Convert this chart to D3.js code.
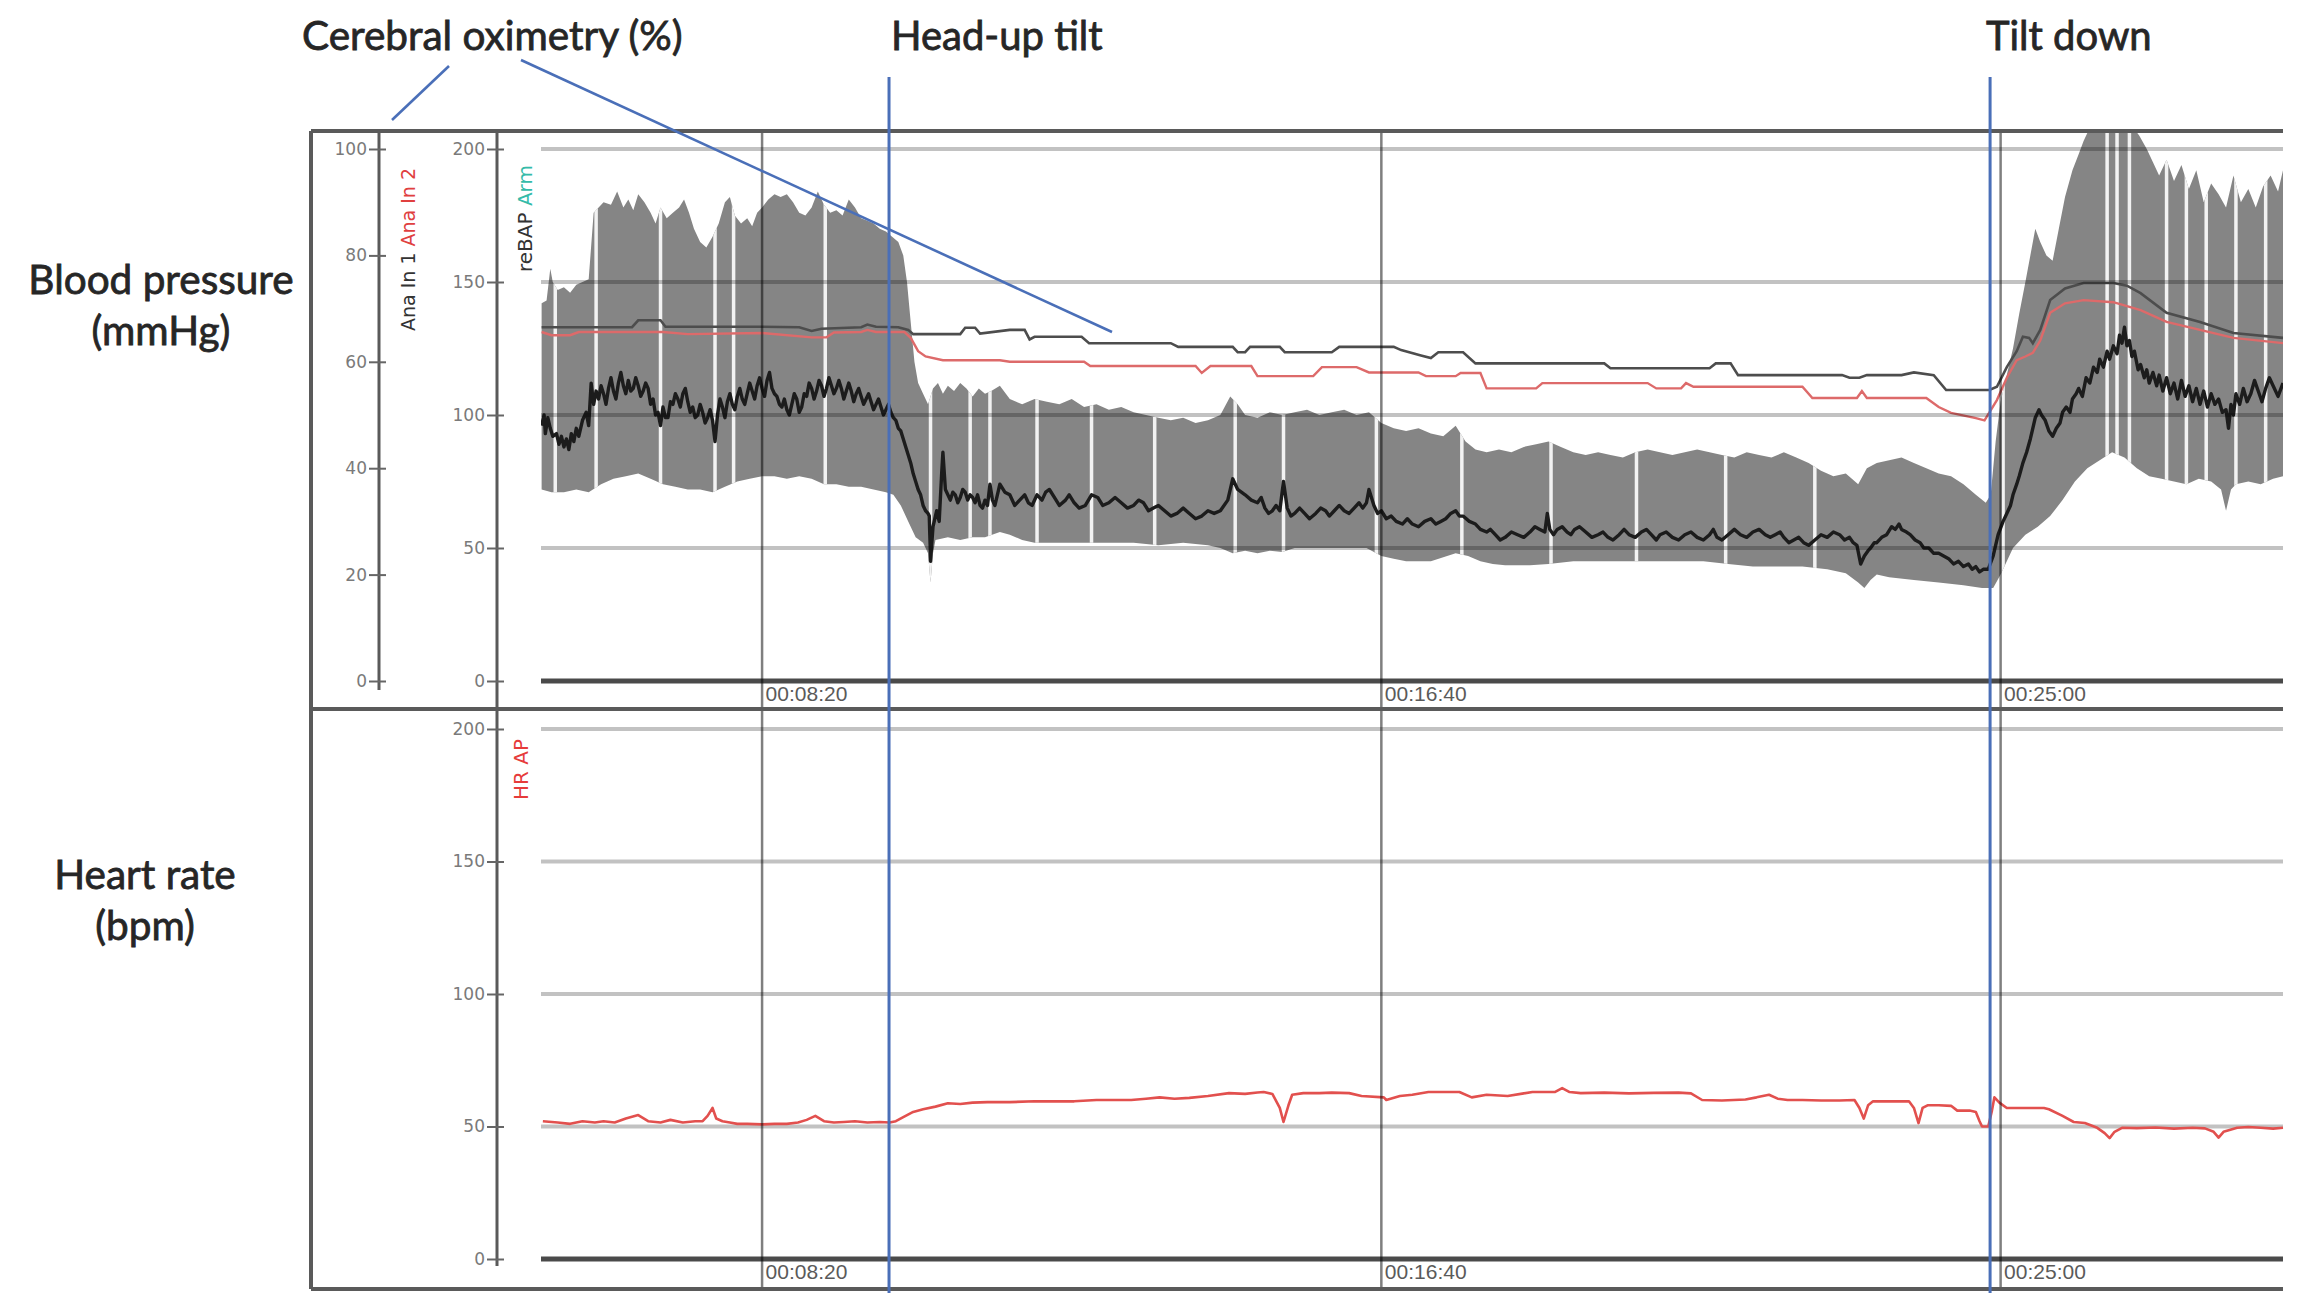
<!DOCTYPE html>
<html><head><meta charset="utf-8">
<script src="https://cdn.jsdelivr.net/npm/d3@7/dist/d3.min.js"></script>
<style>html,body{margin:0;padding:0;background:#fff;}svg{display:block;}</style>
</head><body>
<svg id="chart" width="2304" height="1297"></svg>
<script>
// ---------- data (time in seconds, values in units of each axis) ----------
const timeTicks  = [500, 1000, 1500];
const timeLabels = ["00:08:20", "00:16:40", "00:25:00"];
const oxTicks = [0, 20, 40, 60, 80, 100];
const bpTicks = [0, 50, 100, 150, 200];
const hrTicks = [0, 50, 100, 150, 200];
const eventTimes  = [602.5, 1491.5];
const eventLabels = ["Head-up tilt", "Tilt down"];

// reBAP systolic envelope (mmHg)
const bpUpper = [[322,142],[326,143],[329,155],[331,150],[335,147],[340,148],[345,146],[350,149],[355,150],[360,151],[364,176],[368,178],[372,180],[378,179],[383,184],[388,178],[392,181],[396,177],[400,183],[405,180],[410,176],[414,172],[418,178],[423,174],[428,176],[433,178],[437,181],[441,176],[445,170],[450,165],[455,163],[460,167],[465,172],[470,180],[474,182],[478,175],[483,172],[488,174],[492,171],[496,176],[500,178],[505,181],[510,183],[515,182],[520,183],[525,180],[530,176],[535,175],[540,178],[545,184],[550,179],[555,176],[560,177],[565,175],[570,181],[575,178],[580,174],[585,173],[590,172],[595,170],[600,169],[605,167],[610,165],[614,160],[617,150],[620,135],[623,120],[626,112],[630,108],[634,104],[638,110],[642,112],[646,108],[650,111],[655,109],[660,112],[665,110],[670,107],[675,110],[680,108],[685,109],[692,111],[700,106],[710,104],[720,106],[730,105],[740,104],[750,106],[760,103],[770,104],[780,102],[790,103],[800,101],[810,100],[820,99],[830,98],[840,99],[850,97],[860,98],[870,100],[878,107],[884,104],[890,100],[900,99],[910,101],[920,100],[930,101],[940,102],[950,100],[960,101],[970,102],[980,100],[990,101],[1000,97],[1010,95],[1020,94],[1030,95],[1040,93],[1050,92],[1060,96],[1068,90],[1076,87],[1085,86],[1095,87],[1105,86],[1115,88],[1125,89],[1135,90],[1145,88],[1155,86],[1165,85],[1175,86],[1185,85],[1195,84],[1205,86],[1215,87],[1225,86],[1235,85],[1245,86],[1255,87],[1265,86],[1275,85],[1285,84],[1295,86],[1305,85],[1315,84],[1325,86],[1335,84],[1345,82],[1355,79],[1365,77],[1375,78],[1385,74],[1392,80],[1400,82],[1410,83],[1420,84],[1430,82],[1440,80],[1450,78],[1460,77],[1470,74],[1480,70],[1488,67],[1492,70],[1496,90],[1500,105],[1505,115],[1510,125],[1515,138],[1520,150],[1524,160],[1528,170],[1532,165],[1537,160],[1542,158],[1547,170],[1552,182],[1558,192],[1563,198],[1567,203],[1572,208],[1577,210],[1582,212],[1590,212],[1597,210],[1604,210],[1612,205],[1618,200],[1623,195],[1628,190],[1634,196],[1640,188],[1646,194],[1652,185],[1658,192],[1664,180],[1670,187],[1676,183],[1682,178],[1688,190],[1694,180],[1700,185],[1706,178],[1712,186],[1718,190],[1724,184],[1728,192]];

// reBAP diastolic envelope (mmHg)
const bpLower = [[322,72],[330,71],[340,71],[350,72],[360,71],[370,74],[380,76],[390,77],[400,78],[410,76],[420,74],[430,73],[440,72],[450,72],[460,71],[470,73],[480,75],[490,76],[500,77],[510,77],[520,76],[530,77],[540,76],[550,74],[560,74],[570,73],[580,73],[590,72],[600,71],[606,70],[612,66],[618,60],[624,54],[630,52],[634,48],[636,37],[638,48],[640,53],[650,54],[660,53],[670,54],[680,54],[692,56],[700,55],[710,53],[720,52],[740,52],[760,52],[780,52],[800,52],[820,51],[840,52],[860,51],[870,50],[880,48],[890,49],[900,48],[910,49],[920,48.5],[930,50],[950,50],[970,50],[988,50],[1000,47],[1010,46],[1020,45],[1040,45],[1060,48],[1070,47],[1080,45],[1090,44],[1100,43.5],[1120,43.5],[1135,44],[1155,45],[1180,45],[1200,45],[1220,45],[1240,45],[1260,45],[1280,44],[1300,43],[1320,43],[1340,43],[1360,42],[1375,40.5],[1385,37],[1390,35],[1395,38],[1400,40],[1410,39],[1430,38],[1450,37],[1470,36],[1485,35],[1490,35],[1494,35],[1500,40],[1505,45],[1510,50],[1520,55],[1530,58],[1540,62],[1550,68],[1560,75],[1570,80],[1580,83],[1590,86],[1600,84],[1610,80],[1620,77],[1630,76],[1640,75],[1650,74],[1660,76],[1670,75],[1678,72],[1682,64],[1686,72],[1690,74],[1700,75],[1710,74],[1720,76],[1728,77]];

// reBAP mean (mmHg)
const bpMean = [[322,96],[324,100],[325,93],[327,99],[329,95],[331,92],[334,93],[336,89],[338,92],[340,88],[342,91],[344,87],[346,93],[348,90],[350,95],[352,92],[355,98],[358,101],[360,96],[362,112],[364,104],[366,109],[368,106],[370,111],[372,108],[374,104],[376,110],[378,114],[380,109],[382,106],[384,112],[386,116],[388,111],[390,108],[392,113],[394,109],[396,110],[398,114],[400,111],[402,107],[404,109],[406,112],[408,110],[410,104],[412,106],[414,100],[416,101],[418,96],[420,103],[422,99],[424,99],[426,105],[428,104],[430,108],[432,106],[434,103],[436,108],[438,110],[440,105],[442,101],[444,103],[446,99],[448,100],[450,104],[452,101],[454,97],[456,99],[458,102],[460,98],[462,90],[464,100],[466,106],[468,103],[470,99],[472,105],[474,108],[476,104],[478,102],[480,107],[482,110],[484,106],[486,104],[488,108],[490,112],[492,109],[494,106],[496,111],[498,114],[500,110],[502,107],[504,113],[506,116],[508,110],[510,108],[512,107],[514,104],[516,103],[518,106],[520,102],[522,100],[524,104],[526,108],[528,106],[530,101],[532,103],[534,108],[536,107],[538,112],[540,110],[542,106],[544,109],[546,113],[548,111],[550,107],[552,110],[554,114],[556,111],[558,108],[560,110],[562,113],[564,110],[566,106],[568,109],[570,112],[572,109],[574,105],[576,108],[578,110],[580,107],[582,104],[584,106],[586,108],[588,105],[590,102],[592,104],[594,106],[596,103],[598,100],[600,102],[602,104],[604,101],[606,99],[608,98],[610,95],[612,94],[614,91],[616,88],[618,85],[620,82],[622,78],[624,75],[626,72],[628,70],[630,66],[632,64],[634,63],[635,62],[636,45],[638,58],[641,64],[643,60],[645,78],[646,86],[648,72],[650,70],[652,68],[654,71],[656,70],[658,67],[660,69],[662,72],[664,71],[666,68],[668,70],[670,69],[672,67],[674,70],[676,66],[678,65],[680,68],[682,66],[684,74],[686,68],[688,66],[690,70],[692,74],[696,71],[700,70],[704,66],[708,68],[712,70],[715,67],[718,66],[722,70],[726,68],[729,71],[732,72],[736,69],[740,66],[745,68],[748,70],[752,67],[756,65],[761,66],[766,70],[771,69],[775,66],[780,67],[785,69],[790,67],[795,65],[800,66],[804,68],[808,67],[812,64],[816,65],[820,66],[825,64],[830,62],[835,63],[840,65],[845,63],[850,61],[855,62],[860,64],[865,63],[870,64],[876,68],[880,76],[884,72],[890,70],[895,68],[900,67],[903,69],[906,65],[909,63],[912,64],[915,66],[918,64],[921,75],[924,65],[927,62],[930,63],[934,65],[938,63],[942,61],[947,63],[951,65],[955,64],[958,62],[962,64],[966,66],[970,64],[974,63],[978,65],[982,67],[985,65],[988,67],[990,72],[994,66],[997,63],[1000,64],[1004,61],[1008,62],[1012,60],[1017,59],[1021,61],[1025,59],[1030,58],[1035,60],[1040,61],[1044,59],[1048,60],[1052,61],[1056,63],[1060,64],[1063,62],[1066,62],[1071,60],[1076,59],[1080,57],[1085,56],[1088,57],[1092,55],[1096,53],[1100,54],[1105,56],[1110,55],[1115,54],[1120,56],[1124,58],[1128,57],[1132,56],[1134,63],[1136,57],[1139,55],[1142,57],[1146,58],[1150,56],[1153,55],[1156,57],[1160,58],[1165,56],[1170,54],[1175,55],[1179,56],[1183,54],[1187,53],[1192,55],[1196,57],[1200,55],[1205,54],[1210,56],[1214,57],[1218,55],[1222,53],[1225,55],[1230,56],[1235,54],[1240,53],[1245,55],[1250,56],[1255,54],[1260,53],[1265,55],[1268,57],[1271,54],[1275,53],[1280,55],[1285,57],[1290,55],[1295,54],[1300,56],[1305,57],[1310,55],[1314,54],[1318,55],[1322,56],[1325,54],[1329,52],[1333,53],[1337,54],[1341,52],[1345,51],[1350,53],[1355,55],[1360,54],[1365,56],[1370,55],[1374,53],[1378,54],[1381,52],[1384,51],[1387,44],[1390,47],[1393,49],[1395,50],[1398,52],[1400,52],[1404,54],[1408,55],[1412,58],[1415,57],[1418,59],[1420,57],[1424,56],[1427,55],[1431,53],[1435,52],[1438,50],[1442,50],[1446,48],[1450,48],[1454,47],[1458,46],[1462,44],[1466,45],[1470,43],[1474,44],[1477,42],[1480,43],[1483,41],[1486,42],[1490,42],[1494,47],[1498,55],[1502,60],[1505,63],[1508,66],[1510,70],[1513,74],[1515,77],[1518,82],[1521,86],[1524,91],[1526,95],[1528,99],[1531,102],[1533,100],[1536,98],[1539,94],[1542,92],[1545,95],[1548,97],[1550,101],[1553,103],[1556,101],[1558,106],[1561,108],[1563,110],[1566,107],[1569,114],[1572,112],[1575,118],[1578,116],[1580,121],[1583,118],[1586,124],[1588,121],[1591,126],[1594,123],[1596,130],[1598,127],[1600,133],[1602,126],[1604,128],[1606,122],[1608,124],[1611,117],[1613,119],[1616,114],[1618,117],[1620,112],[1623,116],[1626,111],[1628,115],[1631,109],[1634,114],[1637,108],[1640,112],[1643,106],[1646,113],[1649,107],[1652,111],[1655,105],[1658,110],[1661,104],[1664,109],[1667,103],[1670,108],[1673,104],[1676,106],[1679,101],[1682,102],[1684,95],[1686,104],[1688,100],[1690,108],[1693,104],[1696,110],[1699,105],[1702,108],[1705,113],[1708,109],[1711,105],[1714,110],[1717,114],[1720,111],[1724,107],[1728,112]];

// Physiocal calibration gaps in the reBAP trace (s)
const calibrationTimes = [333,366,418,462,477,551,636,668,684,722,766,817,882,921,996,1065,1137,1206,1278,1350,1502,1586,1594,1604,1634,1650,1666,1690,1714];

// cerebral oximetry, Ana In 1 (%)
const oxIn1 = [[322,66.5],[350,66.5],[395,66.5],[400,67.8],[418,67.8],[422,66.6],[470,66.6],[500,66.6],[530,66.5],[540,65.8],[548,66.2],[580,66.5],[585,67.0],[592,66.6],[610,66.5],[618,66.0],[622,65.2],[660,65.2],[664,66.4],[672,66.4],[676,65.3],[700,66.0],[712,66.0],[716,64.2],[720,64.7],[758,64.7],[764,63.5],[830,63.5],[836,62.8],[880,62.8],[884,61.8],[890,61.8],[894,62.8],[918,62.8],[922,61.8],[960,61.8],[966,62.8],[1010,62.8],[1016,62.2],[1032,61.2],[1040,60.7],[1046,61.8],[1066,61.8],[1076,59.7],[1150,59.7],[1180,59.7],[1185,58.8],[1265,58.8],[1270,59.7],[1282,59.7],[1288,57.5],[1372,57.5],[1378,57.0],[1386,57.0],[1392,57.5],[1420,57.5],[1430,58.0],[1446,57.5],[1456,54.7],[1491,54.7],[1497,55.3],[1505,59],[1513,62],[1518,64.7],[1523,64.5],[1526,63.5],[1532,66],[1540,71.6],[1552,73.8],[1567,74.8],[1591,74.8],[1602,74.3],[1613,72.9],[1634,69.2],[1661,67.5],[1688,65.4],[1728,64.5]];

// cerebral oximetry, Ana In 2 (%)
const oxIn2 = [[322,65.6],[330,65.0],[345,65.0],[352,65.6],[400,65.6],[420,65.6],[440,65.2],[500,65.4],[540,64.6],[552,64.6],[558,65.5],[580,65.6],[585,66.0],[592,65.6],[615,65.6],[620,64.5],[626,62.0],[632,61.0],[646,60.3],[692,60.3],[700,60.0],[760,60.0],[765,59.2],[850,59.2],[855,57.9],[862,59.2],[895,59.2],[900,57.3],[945,57.3],[952,59.0],[980,59.0],[990,58.0],[1030,58.0],[1036,57.3],[1060,57.3],[1064,57.9],[1080,57.9],[1085,55.0],[1125,55.0],[1130,56.0],[1215,56.0],[1222,55.0],[1242,55.0],[1246,56.0],[1252,55.3],[1340,55.3],[1348,53.2],[1384,53.2],[1388,54.5],[1392,53.2],[1440,53.2],[1450,51.5],[1460,50.4],[1480,49.4],[1487,49.0],[1497,52.8],[1505,57],[1513,60.3],[1520,61.0],[1526,61.7],[1532,64],[1540,69.2],[1552,71],[1567,71.6],[1591,71.2],[1613,69.7],[1634,67.5],[1661,66],[1688,64.5],[1728,63.5]];

// heart rate, HR AP (bpm)
const hrAP = [[323,52],[335,51.5],[345,51],[355,52],[365,51.5],[372,52],[381,51.5],[390,53],[400,54.3],[408,52],[418,51.5],[426,52.5],[436,51.5],[446,52],[452,52],[456,54],[460,57],[463,53],[468,52],[474,51.5],[480,51],[488,51],[500,50.8],[510,51],[520,51],[529,51.5],[536,52.5],[543,54],[550,52],[558,51.5],[566,51.7],[575,52],[585,51.5],[595,51.7],[603,51.5],[608,52],[614,53.5],[622,55.5],[630,56.5],[640,57.5],[650,58.8],[660,58.5],[670,59],[682,59.2],[700,59.2],[720,59.5],[740,59.5],[752,59.5],[770,60],[798,60],[810,60.5],[821,61],[833,60.5],[845,60.8],[860,61.5],[877,62.6],[890,62.3],[900,62.8],[905,63],[912,62.3],[918,57],[921,51.7],[925,58],[928,62],[937,62.6],[950,62.6],[960,62.8],[974,62.6],[984,61.5],[1002,61],[1004,60],[1015,61.5],[1025,62],[1038,63],[1050,63],[1063,63],[1073,61],[1085,62],[1102,61.5],[1115,62.5],[1122,63],[1140,63],[1146,64.5],[1152,63],[1161,62.6],[1180,62.8],[1200,62.5],[1220,62.7],[1240,62.8],[1250,62.5],[1259,60],[1275,59.8],[1294,60.2],[1303,61],[1313,62],[1320,60.5],[1328,60],[1340,60],[1355,59.8],[1370,59.8],[1382,60],[1386,57],[1389.5,53],[1393,58],[1397,59.5],[1410,59.5],[1426,59.5],[1430,57],[1433.7,51.3],[1437,57],[1441,58],[1450,58],[1460,57.8],[1465,56],[1475,56],[1480,55.5],[1483,52],[1485,50],[1490,50],[1493,56],[1495,61],[1499,59],[1505,57],[1520,57],[1535,57],[1539,56.5],[1550,54],[1559,51.7],[1568,51.3],[1578,49.5],[1584,47.5],[1588,45.6],[1592,48],[1598,49.5],[1610,49.4],[1625,49.6],[1640,49.2],[1655,49.5],[1665,49.3],[1672,48],[1676,45.8],[1680,48],[1691,49.5],[1700,49.8],[1710,49.5],[1720,49.2],[1728,49.5]];

// ---------- layout ----------
const frameL = 311, frameT = 131, frameR = 2283, frameB = 1289, sepY = 709;
const plotL = 541;
const oxAxisX = 379, bpAxisX = 497;
const svg = d3.select("#chart");

const x   = d3.scaleLinear().domain([321.5, 1728]).range([plotL, frameR]);
const yBP = d3.scaleLinear().domain([0, 200]).range([681, 149]);
const yOx = d3.scaleLinear().domain([0, 100]).range([681, 149]);
const yHR = d3.scaleLinear().domain([0, 200]).range([1259, 729]);

const defs = svg.append("defs");
defs.append("clipPath").attr("id","clipTop").append("rect")
  .attr("x", plotL).attr("y", frameT).attr("width", frameR - plotL).attr("height", 681 - frameT);

const line = (xs, ys) => d3.line().x(d => xs(d[0])).y(d => ys(d[1]));

// ---------- gray band & calibration gaps ----------
const bandPts = bpUpper.concat(bpLower.slice().reverse());
const bandPath = d3.line().x(d => x(d[0])).y(d => yBP(d[1]))(bandPts) + "Z";
defs.append("clipPath").attr("id","clipBand").append("path").attr("d", bandPath);

const gTop = svg.append("g").attr("clip-path","url(#clipTop)");
gTop.append("path").attr("d", bandPath).attr("fill", "#858585");
gTop.append("g").attr("clip-path","url(#clipBand)")
  .selectAll("line").data(calibrationTimes).join("line")
  .attr("x1", d => x(d)).attr("x2", d => x(d))
  .attr("y1", frameT).attr("y2", 681)
  .attr("stroke", "#f2f2f2").attr("stroke-width", 3.5);

// ---------- horizontal grid (semi-transparent so it darkens on the band) ----------
function hGrid(scale, ticks) {
  svg.append("g").selectAll("line").data(ticks.filter(t => t > 0)).join("line")
    .attr("x1", plotL).attr("x2", frameR)
    .attr("y1", d => scale(d)).attr("y2", d => scale(d))
    .attr("stroke", "#000").attr("stroke-opacity", 0.24).attr("stroke-width", 4);
  svg.append("line").attr("x1", plotL).attr("x2", frameR)
    .attr("y1", scale(0)).attr("y2", scale(0))
    .attr("stroke", "#4a4a4a").attr("stroke-width", 5);
}
hGrid(yBP, bpTicks);
hGrid(yHR, hrTicks);

// ---------- traces ----------
gTop.append("path").datum(oxIn1).attr("d", line(x, yOx))
  .attr("fill","none").attr("stroke","#4d4d4d").attr("stroke-width", 2.6);
gTop.append("path").datum(oxIn2).attr("d", line(x, yOx))
  .attr("fill","none").attr("stroke","#dd6a6a").attr("stroke-width", 2.4);
gTop.append("path").datum(bpMean).attr("d", line(x, yBP))
  .attr("fill","none").attr("stroke","#1c1c1c").attr("stroke-width", 3.4).attr("stroke-linejoin","round");

svg.append("path").datum(hrAP).attr("d", line(x, yHR))
  .attr("fill","none").attr("stroke","#e2504e").attr("stroke-width", 2.6).attr("stroke-linejoin","round");

// ---------- vertical time grid + labels ----------
svg.append("g").selectAll("line").data(timeTicks).join("line")
  .attr("x1", d => x(d)).attr("x2", d => x(d))
  .attr("y1", frameT).attr("y2", frameB)
  .attr("stroke", "#000").attr("stroke-opacity", 0.5).attr("stroke-width", 2.5);

function timeAxis(yPos) {
  const ax = d3.axisBottom(x).tickValues(timeTicks)
    .tickFormat((d, i) => timeLabels[i]).tickSize(0).tickPadding(0);
  const g = svg.append("g").attr("transform", `translate(0,${yPos})`).call(ax);
  g.select(".domain").remove();
  g.selectAll("text").attr("text-anchor","start").attr("dx", 3).attr("dy", 0)
    .attr("font-family","'Liberation Sans Narrow','Liberation Sans',sans-serif")
    .attr("font-size", 21).attr("fill","#5a5a5a");
}
timeAxis(701);
timeAxis(1279);

// ---------- frame ----------
const frame = svg.append("g").attr("stroke","#5a5a5a").attr("stroke-width", 4);
frame.append("line").attr("x1", frameL).attr("x2", frameR).attr("y1", frameT).attr("y2", frameT);
frame.append("line").attr("x1", frameL).attr("x2", frameL).attr("y1", frameT).attr("y2", frameB);
frame.append("line").attr("x1", frameL).attr("x2", frameR).attr("y1", sepY).attr("y2", sepY);
frame.append("line").attr("x1", frameL).attr("x2", frameR).attr("y1", frameB).attr("y2", frameB);

// ---------- y axes ----------
function yAxis(scale, ticks, xPos, y0, y1) {
  svg.append("line").attr("x1", xPos).attr("x2", xPos).attr("y1", y0).attr("y2", y1)
    .attr("stroke","#5a5a5a").attr("stroke-width", 3);
  const g = svg.append("g").attr("transform", `translate(${xPos},0)`)
    .call(d3.axisLeft(scale).tickValues(ticks).tickSizeInner(10).tickSizeOuter(0).tickPadding(2));
  g.select(".domain").remove();
  g.selectAll(".tick line").attr("stroke","#666").attr("stroke-width", 2);
  g.selectAll("text").attr("font-family","'DejaVu Sans',sans-serif").attr("font-size", 17).attr("fill","#7a7a7a");
  const g2 = svg.append("g").attr("transform", `translate(${xPos},0)`)
    .call(d3.axisRight(scale).tickValues(ticks).tickSize(7).tickFormat(""));
  g2.select(".domain").remove();
  g2.selectAll(".tick line").attr("stroke","#666").attr("stroke-width", 2);
}
yAxis(yOx, oxTicks, oxAxisX, frameT, 690);
yAxis(yBP, bpTicks, bpAxisX, frameT, sepY);
yAxis(yHR, hrTicks, bpAxisX, sepY, 1266);

// ---------- rotated channel labels ----------
function vLabel(xPos, yPos, size, parts) {
  const t = svg.append("text").attr("transform", `translate(${xPos},${yPos}) rotate(-90)`)
    .attr("font-family","'DejaVu Sans',sans-serif").attr("font-size", size);
  parts.forEach(p => t.append("tspan").attr("fill", p[1]).text(p[0]));
}
vLabel(415, 331, 19, [["Ana In 1 ", "#333"], ["Ana In 2", "#e0403f"]]);
vLabel(532, 272, 20, [["reBAP ", "#333"], ["Arm", "#35bba9"]]);
vLabel(528, 800, 20, [["HR AP", "#e63b3b"]]);

// ---------- event markers & annotations ----------
const blue = "#4a6fb8";
svg.append("g").selectAll("line").data(eventTimes).join("line")
  .attr("x1", d => x(d)).attr("x2", d => x(d)).attr("y1", 77).attr("y2", 1293)
  .attr("stroke", blue).attr("stroke-width", 3);
svg.append("line").attr("x1", 449).attr("y1", 66).attr("x2", 392).attr("y2", 120)
  .attr("stroke", blue).attr("stroke-width", 2.6);
svg.append("line").attr("x1", 521).attr("y1", 60).attr("x2", 1112).attr("y2", 332)
  .attr("stroke", blue).attr("stroke-width", 2.6);

const font = "Lato, 'Open Sans', sans-serif";
const txt = (s, xx, yy, anchor, size) => svg.append("text").attr("x", xx).attr("y", yy)
  .attr("text-anchor", anchor).attr("font-family", font).attr("font-size", size)
  .attr("fill", "#262626").attr("stroke", "#262626").attr("stroke-width", 0.8).text(s);
txt("Cerebral oximetry (%)", 302, 50, "start", 40.5);
txt(eventLabels[0], 891, 50, "start", 40);
txt(eventLabels[1], 1986, 50, "start", 40);
txt("Blood pressure", 161, 294, "middle", 40.5);
txt("(mmHg)", 161, 345, "middle", 40.5);
txt("Heart rate", 145, 889, "middle", 40.5);
txt("(bpm)", 145, 940, "middle", 40.5);
</script>
</body></html>
